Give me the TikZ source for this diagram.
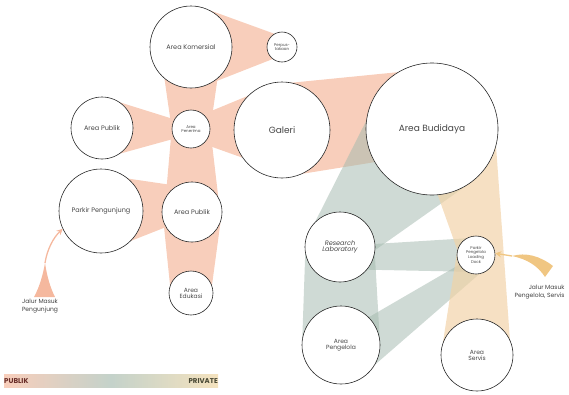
\documentclass[tikz,border=0pt]{standalone}
\usepackage{fontspec}
\setmainfont{Poppins}
\usetikzlibrary{calc,arrows.meta,backgrounds}
\definecolor{pubc}{RGB}{248,206,187}
\definecolor{semc}{RGB}{163,185,174}
\definecolor{privc}{RGB}{242,210,166}
\definecolor{legsem}{RGB}{196,210,202}
\definecolor{legpriv}{RGB}{244,226,190}
\definecolor{pubarrc}{RGB}{245,184,158}
\definecolor{privarrc}{RGB}{240,198,130}
\definecolor{pubtxt}{RGB}{105,45,40}
\definecolor{privtxt}{RGB}{72,72,52}
\begin{document}
\begin{tikzpicture}[x=1pt,y=-1pt,
  zone/.style={circle,draw=black!85,line width=0.6pt,fill=white,inner sep=0pt,align=center,text=black!72},
  pub/.style={fill=pubc},
  sem/.style={fill=semc,fill opacity=0.52},
  priv/.style={fill=privc,fill opacity=0.68},
  lbl/.style={font=\fontsize{6}{7.5}\selectfont,text=black!75},
  fs/.style={font=\fontsize{#1}{#1}\selectfont},
  pubarrow/.style={fill=pubarrc},
  privarrow/.style={fill=privarrc},
  publine/.style={draw=pubarrc,line width=1.3pt,-{Stealth[length=6pt,width=6pt]}},
  privline/.style={draw=privarrc,line width=1.3pt,-{Stealth[length=6pt,width=6pt]}},
  legtxt/.style={font=\bfseries\fontsize{7}{7}\selectfont,inner sep=0pt}]
\useasboundingbox (0,0) rectangle (569,394);

% ---- zones ----
\node[zone,minimum size=82pt,fs=6.5] (kom) at (191,47) {Area Komersial};
\node[zone,minimum size=30pt,fs=4] (per) at (282,47) {Perpus-\\takaan};
\node[zone,minimum size=38pt,fs=4] (pen) at (191,129) {Area\\Penerima};
\node[zone,minimum size=62pt,fs=6.5] (publ) at (102,128) {Area Publik};
\node[zone,minimum size=96pt,fs=9] (gal) at (282,130) {Galeri};
\node[zone,minimum size=132pt,fs=9] (bud) at (432,129) {Area Budidaya};
\node[zone,minimum size=84pt,fs=6.5] (pkg) at (101,211) {Parkir Pengunjung};
\node[zone,minimum size=60pt,fs=6.5] (pubm) at (192,212) {Area Publik};
\node[zone,minimum size=44pt,fs=6] (edu) at (191,293) {Area\\Edukasi};
\node[zone,minimum size=70pt,fs=6.5] (lab) at (340,247) {\itshape Research\\\itshape Laboratory};
\node[zone,minimum size=38pt,fs=4] (pp) at (476,255) {Parkir\\Pengelola\\Loading\\Dock};
\node[zone,minimum size=78pt,fs=6] (peng) at (341,345) {Area\\Pengelola};
\node[zone,minimum size=72pt,fs=6] (serv) at (477,355) {Area\\Servis};

% ---- bands behind the zones ----
\begin{scope}[on background layer]
  % publik
  \fill[pub] (kom.62) -- (per.120) -- (per.-128) -- (kom.-75) -- cycle;
  \fill[pub] (kom.-130) -- (pen.180) -- (pen.0) -- (kom.-50) -- cycle;
  \fill[pub] (pen.180) -- (pubm.150) -- (pubm.30) -- (pen.0) -- cycle;
  \fill[pub] (pubm.200) -- (edu.160) -- (edu.20) -- (pubm.-20) -- cycle;
  \fill[pub] (publ.55) -- (pen.150) -- (pen.210) -- (publ.-55) -- cycle;
  \fill[pub] (pen.50) -- (gal.135) -- (gal.-145) -- (pen.-50) -- cycle;
  \fill[pub] (gal.113) -- (bud.121) -- (bud.-150) -- (gal.-65) -- cycle;
  \fill[pub] (pkg.50) -- (pubm.120) -- (pubm.-150) -- (pkg.-45) -- cycle;
  % semi
  \fill[sem] (lab.135) -- (bud.173) -- (bud.-59) -- (lab.-5) -- cycle;
  \fill[sem] (lab.5) -- (pp.120) -- (pp.-120) -- (lab.-40) -- cycle;
  \fill[sem] (lab.190) -- (peng.170) -- (peng.10) -- (lab.-10) -- cycle;
  \fill[sem] (peng.45) -- (pp.-150) -- (pp.-80) -- (peng.-30) -- cycle;
  % private
  \fill[priv] (bud.-85) -- (pp.165) -- (serv.160) -- (serv.25) -- (bud.-15) -- cycle;
\end{scope}

% ---- entrance arrows ----
\coordinate (ja) at (45,263);
\fill[pubarrow] (34,297) .. controls (40,286) and (43,274) .. (ja)
   .. controls (47,276) and (50,287) .. (55,297) -- cycle;
\draw[publine] (ja) .. controls (47,250) and (53,238) .. (pkg.205);
\node[lbl,align=center] (jm) at (40,306) {Jalur Masuk\\Pengunjung};

\coordinate (jb) at (512,256);
\fill[privarrow] (jb) .. controls (526,252) and (540,256) .. (553,266)
   -- (545,277) .. controls (538,266) and (527,259) .. (jb) -- cycle;
\draw[privline] (jb) -- (pp.5);
\node[lbl,align=right,anchor=east] (js) at (568,292) {Jalur Masuk\\Pengelola, Servis};

% ---- legend ----
\shade[left color=pubc, right color=legpriv, middle color=legsem]
   (4,374) rectangle (218,387);
\node[legtxt,anchor=west,text=pubtxt] (lp) at (4,381) {PUBLIK};
\node[legtxt,anchor=east,text=privtxt] (lv) at (218,381) {PRIVATE};
\end{tikzpicture}
\end{document}
